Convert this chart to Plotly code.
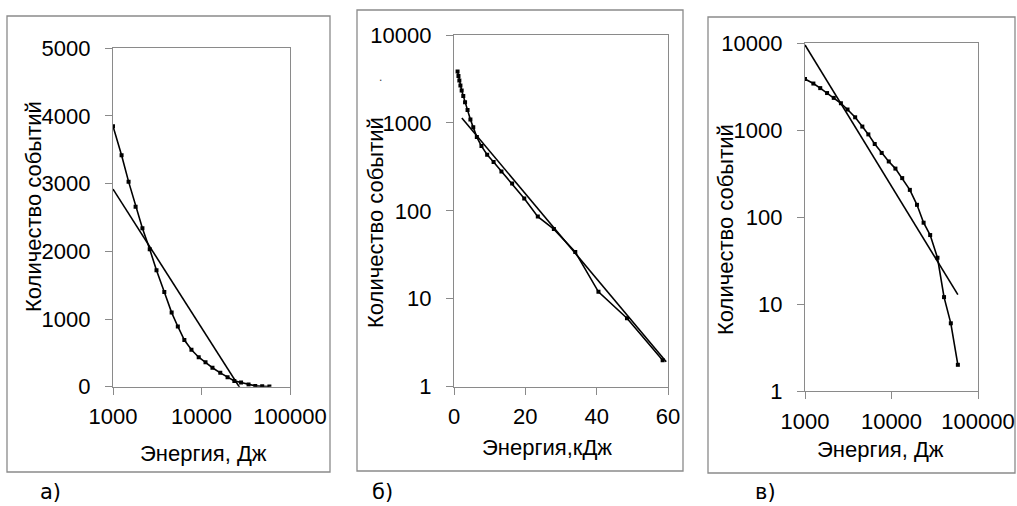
import plotly.graph_objects as go

# Event energy (J) and cumulative number of events
energy_j = [1000, 1250, 1500, 1800, 2150, 2600, 3100, 3800, 4600, 5400, 6400, 7700,
            9300, 11100, 13300, 16300, 19700, 23500, 28000, 34000, 40500, 48500, 58500]
event_count = [3850, 3420, 3030, 2660, 2340, 2030, 1720, 1400, 1095, 890, 690, 545,
               435, 360, 280, 205, 138, 86, 62, 34, 12, 6, 2]
energy_kj = [e / 1000 for e in energy_j]

# Trend line end points for each panel
trend_a_x = [1000, 58500]
trend_a_y = [2920, -700]
trend_b_x = [2.2, 59.5]
trend_b_y = [1140, 1.92]
trend_c_x = [1000, 58500]
trend_c_y = [9500, 12.8]

x_ticks_log = [1000, 10000, 100000]
y_ticks_lin = [0, 1000, 2000, 3000, 4000, 5000]
x_ticks_kj = [0, 20, 40, 60]
y_ticks_log = [1, 10, 100, 1000, 10000]

W, H = 1017, 506
FONT = "Liberation Sans, Arial, sans-serif"
GRAY = "#8a8a8a"


def px_x(v):
    return v / W


def px_y(v):
    return 1 - v / H


fig = go.Figure()

data_style = dict(mode="lines+markers", line=dict(color="black", width=1.6),
                  marker=dict(symbol="square", size=4, color="black"), showlegend=False,
                  hoverinfo="skip")
trend_style = dict(mode="lines", line=dict(color="black", width=1.6), showlegend=False,
                   hoverinfo="skip")

fig.add_trace(go.Scatter(x=energy_j, y=event_count, xaxis="x", yaxis="y", **data_style))
fig.add_trace(go.Scatter(x=trend_a_x, y=trend_a_y, xaxis="x", yaxis="y", **trend_style))
fig.add_trace(go.Scatter(x=energy_kj, y=event_count, xaxis="x2", yaxis="y2", **data_style))
fig.add_trace(go.Scatter(x=trend_b_x, y=trend_b_y, xaxis="x2", yaxis="y2", **trend_style))
fig.add_trace(go.Scatter(x=energy_j, y=event_count, xaxis="x3", yaxis="y3", **data_style))
fig.add_trace(go.Scatter(x=trend_c_x, y=trend_c_y, xaxis="x3", yaxis="y3", **trend_style))

axis_common = dict(showline=True, linecolor=GRAY, linewidth=1.3, mirror=True,
                   ticks="outside", ticklen=7, tickcolor=GRAY, tickwidth=1.3,
                   showgrid=False, zeroline=False, automargin=False,
                   tickfont=dict(family=FONT, size=22, color="black"))


def xaxis(dom_px, anchor, **kw):
    d = dict(axis_common)
    d.update(domain=[px_x(dom_px[0]), px_x(dom_px[1])], anchor=anchor,
             ticklabelstandoff=3, **kw)
    return d


def yaxis(dom_px, anchor, **kw):
    d = dict(axis_common)
    d.update(domain=[px_y(dom_px[1]), px_y(dom_px[0])], anchor=anchor,
             ticklabelstandoff=10, **kw)
    return d


layout = dict(
    width=W, height=H, margin=dict(l=0, r=0, t=0, b=0),
    paper_bgcolor="white", plot_bgcolor="white",
    xaxis=xaxis([113, 290], "y", type="log", range=[3, 5],
                tickvals=x_ticks_log, ticktext=[str(v) for v in x_ticks_log]),
    yaxis=yaxis([48.3, 386.7], "x", range=[0, 5000],
                tickvals=y_ticks_lin, ticktext=[str(v) for v in y_ticks_lin]),
    xaxis2=xaxis([454, 668], "y2", range=[0, 60],
                 tickvals=x_ticks_kj, ticktext=[str(v) for v in x_ticks_kj]),
    yaxis2=yaxis([35, 386.7], "x2", type="log", range=[0, 4],
                 tickvals=y_ticks_log, ticktext=[str(v) for v in y_ticks_log]),
    xaxis3=xaxis([805, 978], "y3", type="log", range=[3, 5],
                 tickvals=x_ticks_log, ticktext=[str(v) for v in x_ticks_log]),
    yaxis3=yaxis([43, 391], "x3", type="log", range=[0, 4],
                 tickvals=y_ticks_log, ticktext=[str(v) for v in y_ticks_log]),
)
fig.update_layout(**layout)

# Outer frames around each chart
frames = [(7, 16, 330, 472), (357, 10, 683, 471), (708, 17, 1015, 473)]
for x0, y0, x1, y1 in frames:
    fig.add_shape(type="rect", xref="paper", yref="paper",
                  x0=px_x(x0), x1=px_x(x1), y0=px_y(y1), y1=px_y(y0),
                  line=dict(color=GRAY, width=1.3), fillcolor="rgba(0,0,0,0)", layer="below")

x_title_font = dict(family=FONT, size=22, color="black")
y_title_font = dict(family=FONT, size=22, color="black")
y_title = "Количество событий"
texts = [
    ("Энергия, Дж", 203, 453, 0),
    (y_title, 33, 207, -90),
    ("Энергия,кДж", 547, 447, 0),
    (y_title, 375, 223, -90),
    ("Энергия, Дж", 880, 449, 0),
    (y_title, 725, 230, -90),
]
for txt, x, y, ang in texts:
    fig.add_annotation(text=txt, x=px_x(x), y=px_y(y), xref="paper", yref="paper",
                       xanchor="center", yanchor="middle", textangle=ang,
                       showarrow=False, font=y_title_font if ang else x_title_font)

panel_font = dict(family="DejaVu Sans, sans-serif", size=21, color="black")
for txt, x in [("а)", 50), ("б)", 382), ("в)", 765)]:
    fig.add_annotation(text=txt, x=px_x(x), y=px_y(492), xref="paper", yref="paper",
                       xanchor="center", yanchor="middle", showarrow=False, font=panel_font)

fig.add_annotation(text=".", x=px_x(380), y=px_y(68), xref="paper", yref="paper",
                   showarrow=False, font=dict(family=FONT, size=12, color="#444"))

fig.write_html("out.html")
